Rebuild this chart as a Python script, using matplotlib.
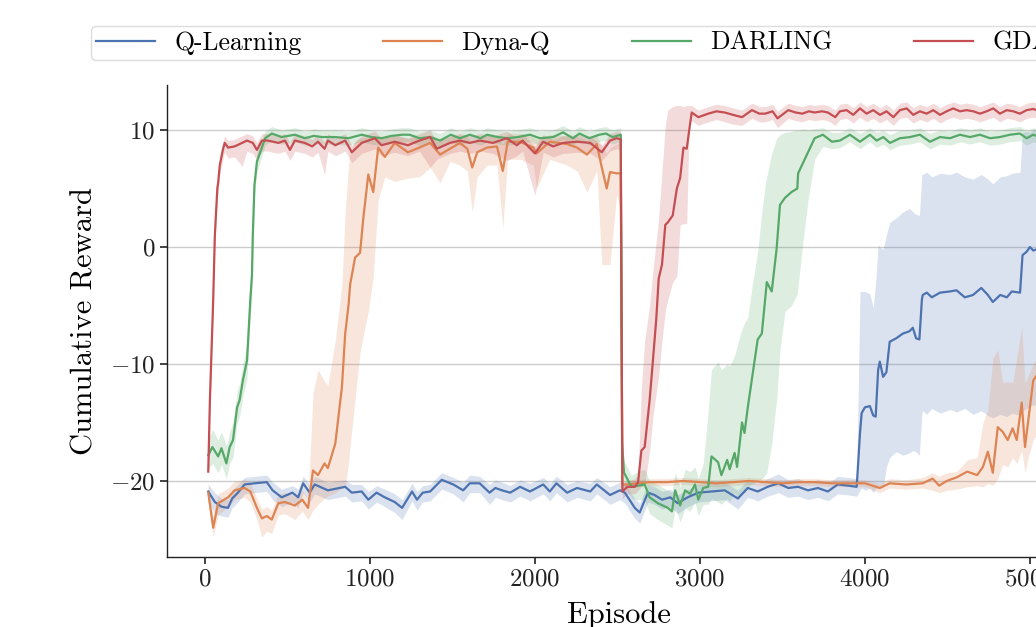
import matplotlib
matplotlib.use("Agg")
import matplotlib.pyplot as plt

plt.rcParams['font.family'] = 'serif'
plt.rcParams['font.serif'] = ['cmr10']
plt.rcParams['mathtext.fontset'] = 'cm'
plt.rcParams['axes.formatter.use_mathtext'] = True

labels = ["Q-Learning", "Dyna-Q", "DARLING", "GDARLING"]
colors = ["#4C72B0", "#DD8452", "#55A868", "#C44E52"]

# ---- Q-Learning ----
q_ep = [20, 60, 100, 140, 165, 200, 240, 300, 375, 410,
        465, 530, 565, 595, 635, 665, 745, 850, 890, 950,
        990, 1040, 1090, 1150, 1195, 1255, 1285, 1320, 1365, 1435,
        1505, 1565, 1605, 1665, 1725, 1760, 1800, 1850, 1910, 1970,
        2050, 2090, 2130, 2195, 2255, 2335, 2375, 2455, 2515, 2545,
        2605, 2635, 2655, 2685, 2725, 2770, 2820, 2865, 2925, 2990,
        3070, 3150, 3230, 3290, 3350, 3410, 3475, 3535, 3595, 3655,
        3715, 3775, 3835, 3900, 3950, 3970, 3980, 4000, 4030, 4050,
        4065, 4080, 4090, 4110, 4130, 4150, 4190, 4230, 4270, 4290,
        4310, 4330, 4345, 4350, 4375, 4405, 4455, 4515, 4555, 4605,
        4655, 4705, 4745, 4775, 4820, 4860, 4890, 4940, 4955, 4980,
        5000, 5020, 5040]
q_mean = [-20.9, -21.8, -22.2, -22.3, -21.5, -21.0, -20.3, -20.2, -20.1, -20.8,
          -21.4, -21.0, -21.4, -20.2, -21.0, -20.3, -20.8, -20.5, -21.0, -20.9,
          -21.6, -21.0, -21.4, -21.8, -22.3, -20.9, -21.6, -21.0, -20.9, -19.9,
          -20.3, -20.8, -20.2, -20.2, -21.0, -20.6, -20.8, -21.0, -20.5, -20.9,
          -20.3, -20.9, -20.2, -21.0, -20.6, -20.9, -20.3, -21.2, -20.8, -21.0,
          -22.3, -22.7, -22.0, -21.0, -21.2, -21.6, -21.4, -21.9, -21.4, -21.0,
          -20.9, -20.8, -21.5, -20.6, -20.9, -20.5, -20.2, -20.6, -20.5, -20.8,
          -20.6, -20.9, -20.3, -20.4, -20.5, -15.9, -14.2, -13.7, -13.6, -14.4,
          -14.5, -10.5, -9.8, -11.1, -10.7, -8.1, -7.8, -7.4, -7.2, -6.9,
          -7.8, -7.9, -4.5, -4.1, -3.9, -4.3, -3.9, -3.8, -3.7, -4.3,
          -4.1, -3.5, -4.1, -4.7, -4.1, -4.3, -3.8, -3.9, -0.7, -0.4,
          0.0, -0.3, -0.2]
q_hi = [-20.3, -21.0, -21.5, -21.6, -20.8, -20.3, -19.7, -19.6, -19.5, -20.1,
        -20.7, -20.4, -20.7, -19.6, -20.3, -19.6, -20.1, -19.9, -20.3, -20.3,
        -20.9, -20.4, -20.7, -21.1, -21.6, -20.2, -20.9, -20.4, -20.3, -19.3,
        -19.7, -20.1, -19.5, -19.6, -20.3, -19.9, -20.1, -20.4, -19.9, -20.2,
        -19.7, -20.2, -19.6, -20.3, -20.0, -20.2, -19.7, -20.5, -20.1, -20.3,
        -21.5, -21.9, -21.2, -20.3, -20.5, -20.9, -20.7, -21.2, -20.7, -20.3,
        -20.2, -20.1, -20.8, -19.9, -20.2, -19.8, -19.4, -19.9, -19.8, -20.1,
        -19.9, -20.2, -19.6, -19.7, -19.8, -3.8, -3.8, -3.8, -4.0, -5.2,
        -3.0, 0.2, 0.0, -0.2, 1.0, 2.1, 2.5, 3.0, 3.3, 3.0,
        2.8, 2.7, 6.2, 6.2, 6.4, 6.0, 6.3, 6.2, 6.4, 6.0,
        5.8, 6.2, 5.8, 5.4, 6.0, 6.1, 6.3, 6.4, 9.8, 9.9,
        9.8, 10.0, 10.0]
q_lo = [-21.7, -22.8, -23.0, -23.1, -22.3, -21.8, -21.1, -21.0, -20.9, -21.6,
        -22.2, -21.8, -22.3, -21.0, -21.8, -21.1, -21.6, -21.3, -21.8, -21.7,
        -22.4, -21.8, -22.2, -22.7, -23.3, -21.7, -22.5, -21.8, -21.7, -20.7,
        -21.1, -21.8, -21.0, -21.0, -22.0, -21.4, -21.6, -21.8, -21.3, -21.7,
        -21.1, -21.7, -21.0, -21.8, -21.4, -21.7, -21.1, -22.0, -21.6, -21.9,
        -23.2, -23.6, -22.9, -21.8, -22.0, -22.4, -22.2, -22.8, -22.2, -21.8,
        -21.7, -21.6, -22.4, -21.4, -21.7, -21.3, -21.0, -21.4, -21.3, -21.6,
        -21.4, -21.7, -21.1, -21.2, -21.3, -20.8, -20.6, -20.8, -20.6, -21.0,
        -20.7, -20.5, -20.4, -20.6, -18.8, -18.0, -17.5, -17.8, -17.6, -17.4,
        -17.5, -17.8, -14.2, -14.0, -14.3, -13.8, -14.2, -13.9, -14.1, -13.8,
        -14.3, -14.0, -14.4, -14.6, -14.3, -14.5, -14.2, -14.4, -14.0, -13.8,
        -13.6, -13.5, -13.5]

# ---- Dyna-Q ----
d_ep = [20, 50, 80, 140, 180, 240, 275, 315, 345, 375,
        405, 445, 485, 545, 590, 625, 655, 685, 725, 745,
        790, 830, 850, 870, 880, 910, 940, 960, 990, 1020,
        1050, 1090, 1150, 1230, 1300, 1365, 1425, 1485, 1545, 1590,
        1620, 1650, 1710, 1770, 1805, 1835, 1910, 1990, 2010, 2090,
        2195, 2255, 2315, 2375, 2405, 2435, 2455, 2495, 2520, 2530,
        2560, 2620, 2700, 2800, 2900, 3000, 3100, 3200, 3300, 3400,
        3500, 3600, 3700, 3800, 3900, 4000, 4090, 4150, 4250, 4350,
        4410, 4450, 4495, 4555, 4620, 4680, 4715, 4745, 4775, 4805,
        4835, 4865, 4895, 4920, 4950, 4970, 4990, 5020, 5040]
d_mean = [-21.0, -24.0, -21.9, -21.4, -20.8, -20.6, -20.9, -22.3, -23.2, -23.0,
          -23.3, -21.9, -21.8, -22.1, -21.6, -22.3, -19.1, -19.5, -18.5, -18.9,
          -16.8, -12.0, -7.4, -5.0, -3.2, -0.9, -0.5, 2.5, 6.2, 4.7,
          8.5, 7.7, 8.9, 8.1, 8.5, 8.9, 7.9, 8.4, 8.9, 8.4,
          6.8, 8.1, 8.5, 8.6, 6.5, 9.0, 9.0, 8.5, 8.0, 9.0,
          8.8, 8.5, 7.9, 8.8, 6.8, 5.0, 6.4, 6.3, 6.3, -20.3,
          -20.3, -20.2, -20.1, -20.1, -20.0, -20.1, -20.2, -20.1, -20.0, -20.1,
          -20.2, -20.1, -20.1, -20.2, -20.2, -20.2, -20.6, -20.2, -20.3, -20.2,
          -19.8, -20.4, -20.0, -19.7, -19.2, -19.5, -18.8, -17.5, -19.3, -15.4,
          -15.8, -16.5, -15.5, -16.5, -13.3, -17.1, -14.8, -11.4, -11.0]
d_hi = [-20.2, -23.0, -21.1, -20.6, -20.0, -19.9, -20.1, -21.5, -22.4, -22.2,
        -22.5, -21.1, -21.0, -21.3, -20.8, -21.5, -12.5, -10.5, -11.5, -11.8,
        -8.0, -3.2, 3.0, 7.0, 8.1, 9.1, 9.3, 9.3, 9.5, 9.4,
        9.5, 9.4, 9.5, 9.3, 9.4, 9.6, 9.2, 9.4, 9.6, 9.4,
        8.9, 9.3, 9.5, 9.5, 8.8, 9.7, 9.7, 9.4, 9.2, 9.6,
        9.5, 9.4, 9.1, 9.5, 8.7, 8.0, 8.5, 8.8, 8.9, -20.0,
        -20.0, -19.9, -19.8, -19.8, -19.7, -19.8, -19.9, -19.8, -19.7, -19.8,
        -19.9, -19.8, -19.8, -19.9, -19.9, -19.9, -20.2, -19.8, -19.9, -19.7,
        -19.3, -19.6, -19.3, -19.2, -18.2, -18.0, -15.0, -13.9, -9.5, -8.8,
        -11.6, -11.5, -11.6, -9.5, -6.8, -11.6, -11.0, -10.0, -9.5]
d_lo = [-21.8, -24.8, -22.9, -22.2, -21.6, -21.4, -21.8, -23.3, -24.8, -24.3,
        -24.5, -22.9, -22.8, -23.3, -22.6, -23.3, -22.5, -22.0, -21.5, -21.3,
        -21.0, -20.6, -20.5, -18.5, -17.0, -13.0, -9.0, -7.5, -5.5, -2.5,
        4.0, 6.0, 5.6, 5.9, 6.0, 6.8, 5.5, 7.3, 7.0, 6.5,
        3.0, 6.0, 7.0, 7.0, 1.6, 7.5, 7.5, 7.0, 5.0, 7.5,
        7.0, 6.5, 4.7, 6.5, -1.5, -1.5, -1.5, 4.5, 3.0, -20.6,
        -20.6, -20.5, -20.4, -20.4, -20.3, -20.4, -20.5, -20.4, -20.3, -20.4,
        -20.5, -20.4, -20.4, -20.5, -20.5, -20.5, -21.0, -20.6, -20.7, -20.6,
        -20.8, -21.0, -20.8, -20.7, -20.5, -20.4, -20.5, -20.2, -20.4, -19.8,
        -18.6, -18.8, -18.0, -18.5, -17.4, -19.3, -18.0, -16.5, -16.0]

# ---- DARLING ----
g_ep = [20, 45, 80, 100, 130, 150, 170, 195, 210, 230,
        255, 275, 285, 290, 300, 315, 335, 365, 405, 465,
        545, 605, 660, 710, 790, 870, 950, 1010, 1070, 1130,
        1195, 1240, 1300, 1365, 1425, 1490, 1545, 1605, 1670, 1710,
        1775, 1835, 1895, 1970, 2030, 2110, 2170, 2230, 2270, 2330,
        2390, 2430, 2470, 2520, 2528, 2540, 2585, 2625, 2665, 2695,
        2745, 2805, 2830, 2850, 2880, 2910, 2940, 2970, 2990, 3020,
        3050, 3070, 3110, 3130, 3165, 3180, 3210, 3225, 3255, 3270,
        3290, 3320, 3350, 3375, 3395, 3405, 3435, 3465, 3485, 3515,
        3555, 3590, 3595, 3625, 3655, 3695, 3745, 3800, 3848, 3909,
        3970, 4030, 4071, 4111, 4152, 4212, 4273, 4333, 4394, 4455,
        4515, 4576, 4636, 4697, 4758, 4818, 4879, 4939, 4980, 5020,
        5040]
g_mean = [-17.8, -17.1, -17.9, -17.2, -18.5, -17.1, -16.5, -13.7, -13.1, -11.4,
          -9.7, -4.5, -2.4, 1.0, 5.3, 7.3, 8.1, 9.3, 9.7, 9.4,
          9.6, 9.3, 9.5, 9.4, 9.4, 9.3, 9.6, 9.4, 9.3, 9.5,
          9.6, 9.6, 9.3, 9.4, 9.1, 9.6, 9.3, 9.6, 9.3, 9.6,
          9.4, 9.3, 9.4, 9.6, 9.3, 9.4, 9.8, 9.3, 9.7, 9.3,
          9.6, 9.7, 9.4, 9.6, -16.8, -19.3, -20.5, -20.4, -20.3, -21.4,
          -21.9, -22.3, -22.6, -20.8, -22.1, -20.8, -21.1, -20.3, -21.6, -20.6,
          -20.5, -17.9, -18.4, -19.5, -18.2, -19.0, -17.6, -18.8, -15.0, -15.9,
          -13.7, -10.8, -7.9, -7.4, -4.5, -3.0, -3.8, -0.1, 3.6, 4.2,
          4.7, 5.0, 6.3, 7.2, 8.1, 9.3, 9.6, 9.0, 9.1, 9.6,
          9.0, 9.6, 9.1, 9.4, 8.9, 9.3, 9.4, 9.6, 9.0, 9.4,
          9.3, 9.6, 9.4, 9.6, 9.3, 9.4, 9.6, 9.7, 9.3, 9.6,
          9.5]
g_hi = [-16.5, -15.6, -16.5, -15.8, -17.0, -15.8, -15.0, -12.3, -11.7, -10.0,
        -8.2, -3.0, -1.0, 2.3, 6.3, 8.2, 8.9, 9.9, 10.3, 10.0,
        10.2, 9.9, 10.1, 10.0, 10.0, 9.9, 10.2, 10.0, 9.9, 10.1,
        10.2, 10.2, 9.9, 10.0, 9.7, 10.2, 9.9, 10.2, 9.9, 10.2,
        10.0, 9.9, 10.0, 10.2, 9.9, 10.0, 10.4, 9.9, 10.3, 9.9,
        10.2, 10.3, 10.0, 10.2, -15.5, -18.3, -19.5, -19.2, -19.0, -20.0,
        -20.3, -20.8, -21.0, -19.3, -20.5, -19.0, -19.2, -18.8, -19.8, -18.5,
        -14.0, -10.5, -9.8, -10.5, -10.0, -10.2, -9.3, -8.5, -7.0, -6.5,
        -6.0, -3.0, -0.4, 3.0, 5.3, 6.0, 8.0, 9.3, 9.6, 9.8,
        9.9, 10.0, 10.0, 10.1, 10.0, 10.1, 10.2, 9.8, 9.8, 10.2,
        9.7, 10.2, 9.8, 10.0, 9.6, 10.0, 10.0, 10.2, 9.7, 10.0,
        9.9, 10.2, 10.0, 10.2, 9.9, 10.0, 10.2, 10.3, 9.9, 10.2,
        10.1]
g_lo = [-19.0, -18.5, -19.3, -18.6, -19.8, -18.5, -18.0, -15.0, -14.5, -12.8,
        -11.2, -6.0, -4.0, -0.5, 4.3, 6.4, 7.3, 8.7, 9.1, 8.8,
        9.0, 8.7, 8.9, 8.8, 8.8, 8.7, 9.0, 8.8, 8.7, 8.9,
        9.0, 9.0, 8.7, 8.8, 8.5, 9.0, 8.7, 9.0, 8.7, 9.0,
        8.8, 8.7, 8.8, 9.0, 8.7, 8.8, 9.2, 8.7, 9.1, 8.7,
        9.0, 9.1, 8.8, 9.0, -18.0, -20.3, -21.5, -21.6, -21.6, -22.8,
        -23.3, -23.8, -24.0, -22.3, -23.5, -22.3, -22.6, -21.8, -23.0, -22.0,
        -22.0, -21.5, -21.8, -22.0, -21.5, -21.8, -21.0, -21.5, -21.0, -21.0,
        -20.5, -20.2, -20.0, -19.8, -19.5, -19.3, -16.8, -13.0, -8.8, -5.5,
        -5.0, -4.0, -3.3, 0.5, 4.0, 7.5, 8.6, 8.4, 8.5, 9.0,
        8.4, 9.0, 8.5, 8.8, 8.3, 8.7, 8.8, 9.0, 8.4, 8.8,
        8.7, 9.0, 8.8, 9.0, 8.7, 8.8, 9.0, 9.1, 8.7, 9.0,
        8.9]

# ---- GDARLING ----
r_ep = [20, 30, 50, 60, 75, 80, 90, 110, 120, 140,
        180, 225, 255, 290, 315, 345, 380, 445, 485, 515,
        545, 605, 650, 685, 725, 745, 790, 850, 890, 950,
        1030, 1070, 1150, 1230, 1300, 1365, 1405, 1485, 1545, 1605,
        1665, 1745, 1830, 1890, 1925, 2000, 2050, 2110, 2170, 2255,
        2335, 2405, 2455, 2495, 2520, 2530, 2560, 2605, 2625, 2645,
        2665, 2695, 2715, 2735, 2750, 2770, 2790, 2805, 2835, 2860,
        2880, 2900, 2920, 2935, 2950, 2990, 3050, 3100, 3150, 3200,
        3255, 3315, 3360, 3395, 3440, 3470, 3535, 3580, 3620, 3660,
        3695, 3740, 3775, 3820, 3848, 3889, 3929, 3970, 4010, 4050,
        4091, 4131, 4172, 4212, 4253, 4293, 4333, 4374, 4414, 4455,
        4495, 4535, 4576, 4616, 4657, 4697, 4737, 4778, 4818, 4859,
        4899, 4939, 4980, 5020, 5040]
r_mean = [-19.2, -13.1, -4.5, 1.0, 5.0, 5.5, 7.0, 8.4, 8.9, 8.5,
          8.6, 8.9, 9.1, 8.9, 8.3, 9.1, 9.1, 8.9, 9.1, 8.3,
          9.1, 8.9, 8.6, 9.0, 8.4, 9.1, 8.7, 9.1, 8.1, 8.9,
          9.3, 8.7, 9.0, 8.7, 9.1, 9.4, 8.4, 8.9, 9.1, 8.9,
          9.1, 8.9, 9.3, 8.7, 9.1, 8.0, 9.0, 8.6, 8.9, 9.0,
          8.9, 8.1, 9.1, 9.3, 9.2, -20.9, -20.5, -20.5, -20.1, -17.4,
          -17.1, -13.1, -9.7, -6.2, -2.7, -1.5, 1.9, 2.1, 2.7, 5.0,
          5.9, 8.5, 8.4, 10.0, 11.5, 11.1, 11.4, 11.6, 11.5, 11.3,
          11.1, 11.7, 11.4, 11.4, 11.6, 11.0, 11.7, 11.5, 11.4, 11.6,
          11.5, 11.6, 11.5, 11.1, 11.6, 11.7, 11.3, 11.85, 11.4, 11.7,
          11.3, 11.6, 11.1, 11.7, 11.85, 11.3, 11.6, 11.4, 11.7, 11.3,
          11.6, 11.85, 11.6, 11.7, 11.6, 11.4, 11.6, 11.85, 11.4, 11.7,
          11.6, 11.4, 11.7, 11.8, 11.7]
r_hi = [-18.5, -12.3, -3.7, 1.8, 5.8, 6.3, 7.8, 9.1, 9.5, 9.1,
        9.2, 9.5, 9.7, 9.5, 8.9, 9.7, 9.7, 9.5, 9.7, 8.9,
        9.7, 9.5, 9.2, 9.6, 9.0, 9.7, 9.3, 9.7, 8.7, 9.5,
        9.9, 9.3, 9.6, 9.3, 9.7, 10.0, 9.0, 9.5, 9.7, 9.5,
        9.7, 9.5, 9.9, 9.3, 9.7, 8.6, 9.6, 9.2, 9.5, 9.6,
        9.5, 8.7, 9.7, 9.9, 9.8, -20.3, -20.0, -19.8, -19.5, -12.0,
        -8.0, -5.0, -2.0, 0.5, 2.5, 6.5, 10.4, 11.7, 12.0, 12.1,
        12.1, 12.0, 12.1, 12.1, 12.1, 11.7, 12.0, 12.2, 12.1, 11.9,
        11.7, 12.3, 12.0, 12.0, 12.2, 11.6, 12.3, 12.1, 12.0, 12.2,
        12.1, 12.2, 12.1, 11.7, 12.2, 12.3, 11.9, 12.4, 12.0, 12.3,
        11.9, 12.2, 11.7, 12.3, 12.4, 11.9, 12.2, 12.0, 12.3, 11.9,
        12.2, 12.4, 12.2, 12.3, 12.2, 12.0, 12.2, 12.4, 12.0, 12.3,
        12.2, 12.0, 12.3, 12.4, 12.3]
r_lo = [-19.8, -13.9, -5.3, 0.2, 4.2, 4.7, 6.2, 7.6, 8.1, 7.6,
        7.7, 6.9, 8.2, 8.0, 7.4, 8.2, 8.2, 8.0, 8.2, 7.4,
        8.2, 8.0, 7.7, 8.1, 6.2, 8.2, 7.8, 8.2, 7.2, 8.0,
        8.4, 7.8, 8.1, 7.8, 8.2, 6.8, 7.5, 8.0, 8.2, 8.0,
        8.2, 8.0, 7.4, 7.8, 8.2, 4.4, 8.1, 7.7, 8.0, 8.1,
        8.0, 7.4, 8.2, 8.4, 8.3, -21.5, -21.1, -21.1, -20.8, -20.5,
        -20.3, -17.5, -14.5, -12.5, -11.0, -8.0, -5.5, -4.5, -3.0, -2.5,
        1.9, 2.0, 2.0, 10.5, 10.8, 10.4, 10.7, 10.9, 10.7, 10.5,
        10.4, 11.0, 10.7, 10.7, 10.9, 10.2, 11.0, 10.8, 10.7, 10.9,
        10.8, 10.9, 10.8, 10.4, 10.9, 11.0, 10.6, 11.1, 10.7, 11.0,
        10.6, 10.9, 10.4, 11.0, 11.1, 10.6, 10.9, 10.7, 11.0, 10.6,
        10.9, 11.1, 10.9, 11.0, 10.9, 10.7, 10.9, 11.1, 10.7, 11.0,
        10.9, 10.7, 11.0, 11.1, 11.0]

series = [(q_ep, q_mean, q_lo, q_hi),
          (d_ep, d_mean, d_lo, d_hi),
          (g_ep, g_mean, g_lo, g_hi),
          (r_ep, r_mean, r_lo, r_hi)]

xticks = [0, 1000, 2000, 3000, 4000, 5000]
yticks = [-20, -10, 0, 10]

W, H = 1036, 627
fig = plt.figure(figsize=(W / 100, H / 100), dpi=100)
xmin, xmax = -230, 5250
px_per_ep = 0.165
ax = fig.add_axes([167 / W, 1 - 557 / H, (xmax - xmin) * px_per_ep / W, (557 - 85) / H])

for (ep, m, lo, hi), c, lab in zip(series, colors, labels):
    assert len(ep) == len(m) == len(lo) == len(hi), lab
    ax.fill_between(ep, lo, hi, color=c, alpha=0.2, lw=0)
    ax.plot(ep, m, color=c, lw=1.6, label=lab)

ax.set_xlim(xmin, xmax)
ax.set_ylim(-26.5, 13.85)
ax.set_xticks(xticks)
ax.set_yticks(yticks)
ax.yaxis.grid(True, color="#cccccc", lw=1.0)
ax.set_axisbelow(True)
for s in ["top", "right"]:
    ax.spines[s].set_visible(False)
for s in ["left", "bottom"]:
    ax.spines[s].set_color("#222222")
    ax.spines[s].set_linewidth(1.0)
ax.tick_params(labelsize=18, length=5, width=1.2, colors="#222222")
ax.set_xlabel("Episode", fontsize=22, labelpad=7)
ax.set_ylabel("Cumulative Reward", fontsize=22, labelpad=8)

fig.legend(loc="lower left", bbox_to_anchor=(91 / W, 1 - 60 / H, 1049 / W, 33 / H),
           mode="expand", ncol=4, fontsize=18.5, borderaxespad=0, borderpad=0.2,
           handlelength=2.3, handletextpad=0.75, frameon=True, fancybox=True,
           edgecolor="#dddddd", framealpha=1.0)

fig.savefig("out.png", dpi=100)
